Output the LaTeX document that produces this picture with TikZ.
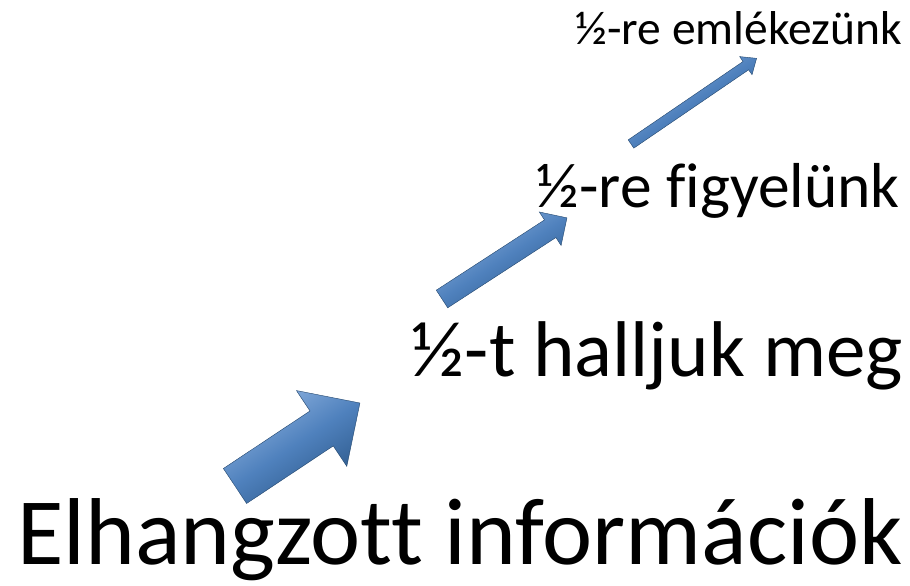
\documentclass[tikz,border=0pt]{standalone}
\usepackage{fontspec}
\setmainfont[Ligatures=NoCommon]{Carlito}
\definecolor{arrowlight}{HTML}{8FB3E0}
\definecolor{arrowmid}{HTML}{4F81BD}
\definecolor{arrowdark}{HTML}{2B5788}
\tikzset{
  lbl/.style={anchor=base east, inner sep=0pt, text=black},
  bevel/.style={top color=arrowlight, bottom color=arrowdark, middle color=arrowmid, draw=arrowdark!80!black, line width=0.4pt, line join=miter}
}
% #1 tail x, #2 tail y, #3 angle, #4 length, #5 shaft width, #6 head width, #7 head length
\newcommand{\bevelarrow}[7]{%
  \begin{scope}[shift={(#1,#2)}, rotate=#3]
    \path[bevel, shading angle=#3]
      (0,-#5/2) -- ({#4-#7},-#5/2) -- ({#4-#7},-#6/2) -- (#4,0)
      -- ({#4-#7},#6/2) -- ({#4-#7},#5/2) -- (0,#5/2) -- cycle;
  \end{scope}}
\begin{document}
\begin{tikzpicture}[x=1pt,y=1pt]
  \useasboundingbox (0,0) rectangle (910,586);
  \node[lbl, font=\fontsize{95}{100}\selectfont] (t1) at (903,21) {Elhangzott információk};
  \node[lbl, font=\fontsize{79}{84}\selectfont] (t2) at (903,209) {½-t halljuk meg};
  \node[lbl, font=\fontsize{63.5}{66}\selectfont] (t3) at (900,378) {½-re figyelünk};
  \node[lbl, font=\fontsize{47.5}{50}\selectfont] (t4) at (902,541) {½-re emlékezünk};
  \bevelarrow{235}{100}{33.6}{150}{42}{91}{46}
  \bevelarrow{442}{287}{33.0}{149}{21}{40}{20}
  \bevelarrow{631}{442}{34.3}{152}{10}{22}{13}
\end{tikzpicture}
\end{document}
